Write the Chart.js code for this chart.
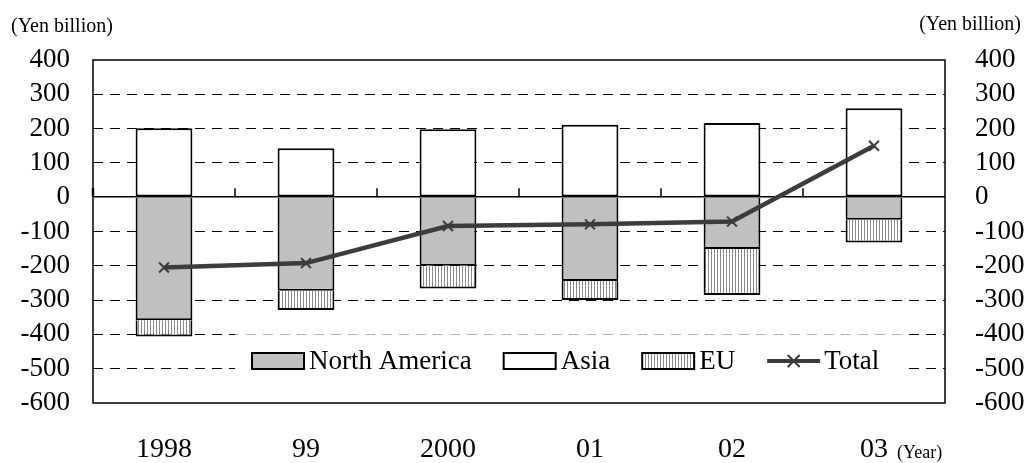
<!DOCTYPE html>
<html>
<head>
<meta charset="utf-8">
<script src="https://cdn.jsdelivr.net/npm/chart.js@4.4.1/dist/chart.umd.min.js"></script>
<style>
  html, body { margin: 0; padding: 0; background: #fff; }
  #wrap { width: 1027px; height: 463px; }
</style>
</head>
<body>
<div id="wrap"><canvas id="chart" width="1027" height="463"></canvas></div>
<script>
// dados (Yen billion)
const years = ['1998', '99', '2000', '01', '02', '03'];
const northAmerica = [-359, -273, -200, -244, -151, -66];
const asia = [201, 143, 198, 211, 216, 259];
const eu = [-47, -56, -66, -56, -134, -66];
const total = [-205, -192, -84, -79, -71, 150];
const yMin = -600;
const yMax = 400;
const yStep = 100;

const serif = "'Liberation Serif', 'Times New Roman', serif";
const lineColor = '#3c3c3c';

// hachura vertical do EU
function makeHatch() {
    const c = document.createElement('canvas');
    c.width = 3;
    c.height = 3;
    const g = c.getContext('2d');
    g.fillStyle = '#fff';
    g.fillRect(0, 0, 3, 3);
    g.fillStyle = '#8a8a8a';
    g.fillRect(0, 0, 1, 3);
    return g.createPattern(c, 'repeat');
}
const hatch = makeHatch();

// moldura, linha do zero e marcas das categorias
const framePlugin = {
    id: 'frame',
    beforeDatasetsDraw(chart) {
        const { ctx, chartArea: a, scales } = chart;
        const y0 = scales.y.getPixelForValue(0);
        ctx.save();
        ctx.strokeStyle = '#000';
        ctx.lineWidth = 1.5;
        ctx.beginPath();
        for (let i = 0; i < years.length - 1; i++) {
            const x = (scales.x.getPixelForValue(i) + scales.x.getPixelForValue(i + 1)) / 2;
            ctx.moveTo(x, y0 - 9);
            ctx.lineTo(x, y0);
        }
        ctx.stroke();
        ctx.lineWidth = 2.5;
        ctx.beginPath();
        ctx.moveTo(a.left, y0 - 9);
        ctx.lineTo(a.left, y0);
        ctx.stroke();
        ctx.restore();
    },
    afterDatasetsDraw(chart) {
        const { ctx, chartArea: a } = chart;
        ctx.save();
        // fundo da legenda
        ctx.fillStyle = 'rgba(255,255,255,0.7)';
        ctx.fillRect(235, 334, 668, 2);
        ctx.fillStyle = '#fff';
        ctx.fillRect(235, 336, 668, 52);
        ctx.strokeStyle = '#000';
        ctx.lineWidth = 1.5;
        ctx.strokeRect(a.left, a.top, a.right - a.left, a.bottom - a.top);
        drawLegend(chart, ctx);
        // textos das unidades
        ctx.fillStyle = '#000';
        ctx.textBaseline = 'middle';
        ctx.font = '20px ' + serif;
        ctx.textAlign = 'left';
        ctx.fillText('(Yen billion)', 11, 27);
        ctx.textAlign = 'right';
        ctx.fillText('(Yen billion)', 1021, 25);
        ctx.textAlign = 'left';
        ctx.textBaseline = 'alphabetic';
        ctx.font = '18px ' + serif;
        const xLast = chart.scales.x.getPixelForValue(years.length - 1);
        ctx.fillText('(Year)', xLast + 23, 458);
        ctx.restore();
    }
};

function drawCross(ctx, x, y, r) {
    ctx.beginPath();
    ctx.moveTo(x - r, y - r);
    ctx.lineTo(x + r, y + r);
    ctx.moveTo(x - r, y + r);
    ctx.lineTo(x + r, y - r);
    ctx.stroke();
}

function drawLegend(chart, ctx) {
    const sets = chart.data.datasets;
    const cy = 361;
    let x = 252;
    ctx.font = '27px ' + serif;
    ctx.textBaseline = 'middle';
    ctx.textAlign = 'left';
    sets.forEach(function (ds) {
        if (ds.type === 'line') {
            ctx.strokeStyle = lineColor;
            ctx.lineWidth = 4;
            ctx.beginPath();
            ctx.moveTo(x, cy);
            ctx.lineTo(x + 53, cy);
            ctx.stroke();
            ctx.lineWidth = 2;
            drawCross(ctx, x + 26.5, cy, 6);
        } else {
            ctx.fillStyle = ds.backgroundColor;
            ctx.fillRect(x, cy - 8, 52, 16);
            ctx.strokeStyle = '#000';
            ctx.lineWidth = 2;
            ctx.strokeRect(x, cy - 8, 52, 16);
        }
        ctx.fillStyle = '#000';
        ctx.fillText(ds.label, x + 57, cy + 1);
        x += 57 + ctx.measureText(ds.label).width + 32;
    });
}

// bordas: o lado colado ao segmento de cima fica sem borda
const sideBorder = { top: 0, right: 2, bottom: 2, left: 2 };

document.addEventListener('DOMContentLoaded', function () {
    const ctx = document.getElementById('chart').getContext('2d');

    new Chart(ctx, {
        data: {
            labels: years,
            datasets: [
                {
                    type: 'bar',
                    label: 'North America',
                    data: northAmerica,
                    backgroundColor: '#c0c0c0',
                    borderColor: '#000',
                    borderWidth: sideBorder,
                    borderSkipped: false,
                    inflateAmount: 0,
                    stack: 'regioes',
                    order: 2
                },
                {
                    type: 'bar',
                    label: 'Asia',
                    data: asia,
                    backgroundColor: '#ffffff',
                    borderColor: '#000',
                    borderWidth: 2,
                    borderSkipped: false,
                    inflateAmount: 0,
                    stack: 'regioes',
                    order: 2
                },
                {
                    type: 'bar',
                    label: 'EU',
                    data: eu,
                    backgroundColor: hatch,
                    borderColor: '#000',
                    borderWidth: sideBorder,
                    borderSkipped: false,
                    inflateAmount: 0,
                    stack: 'regioes',
                    order: 2
                },
                {
                    type: 'line',
                    label: 'Total',
                    data: total,
                    borderColor: lineColor,
                    borderWidth: 4.5,
                    pointStyle: 'crossRot',
                    pointRadius: 7,
                    pointBorderWidth: 2,
                    pointBorderColor: lineColor,
                    pointBackgroundColor: lineColor,
                    tension: 0,
                    stack: 'total',
                    order: 1
                }
            ]
        },
        options: {
            responsive: false,
            animation: false,
            devicePixelRatio: 1,
            layout: { padding: { top: 60, left: 0, right: 0, bottom: 0 } },
            plugins: {
                legend: { display: false },
                tooltip: { enabled: false }
            },
            datasets: {
                bar: { barPercentage: 0.4, categoryPercentage: 1 }
            },
            scales: {
                x: {
                    stacked: true,
                    offset: true,
                    grid: { display: false },
                    border: { display: false },
                    ticks: {
                        color: '#000',
                        padding: 22,
                        font: { family: serif, size: 28 }
                    },
                    afterFit(scale) { scale.height = 60; }
                },
                y: {
                    stacked: true,
                    position: 'left',
                    min: yMin,
                    max: yMax,
                    grid: {
                        drawTicks: false,
                        color: c => (c.tick.value === yMax || c.tick.value === yMin) ? 'rgba(0,0,0,0)' : '#000',
                        lineWidth: c => c.tick.value === 0 ? 1.5 : 1
                    },
                    border: {
                        display: false,
                        dash: c => c.tick && c.tick.value === 0 ? [] : [10, 7]
                    },
                    ticks: {
                        stepSize: yStep,
                        autoSkip: false,
                        color: '#000',
                        padding: 23,
                        font: { family: serif, size: 27 }
                    },
                    afterFit(scale) { scale.width = 93; }
                },
                y2: {
                    position: 'right',
                    min: yMin,
                    max: yMax,
                    grid: { display: false, drawOnChartArea: false },
                    border: { display: false },
                    ticks: {
                        stepSize: yStep,
                        autoSkip: false,
                        color: '#000',
                        padding: 22,
                        font: { family: serif, size: 27 }
                    },
                    afterFit(scale) { scale.width = 82; }
                }
            }
        },
        plugins: [framePlugin]
    });
});
</script>
</body>
</html>
